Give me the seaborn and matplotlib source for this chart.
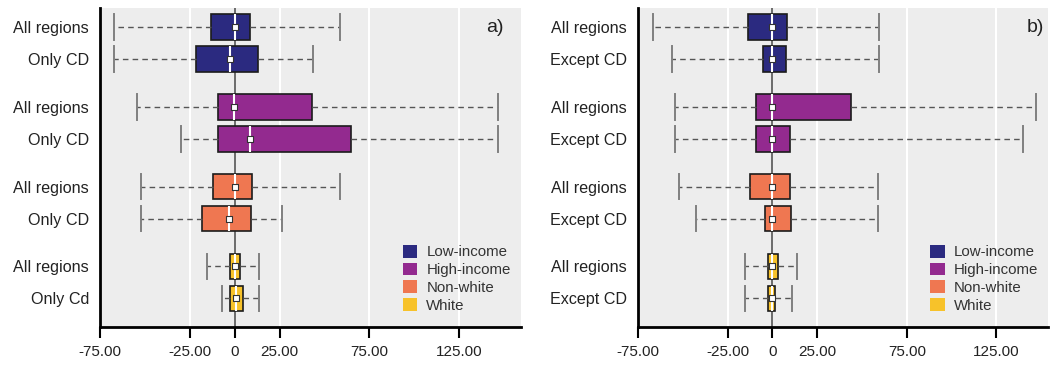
import pandas as pd
import matplotlib.pyplot as plt
import seaborn as sns
from matplotlib.patches import Patch

plt.rcParams['font.family'] = ['Liberation Sans', 'DejaVu Sans']

groups = ['Low-income', 'High-income', 'Non-white', 'White']
colors = ['#2B2A80', '#932A8F', '#EF7751', '#F7C22A']

labels_a = ['All regions', 'Only CD', 'All regions', 'Only CD',
            'All regions', 'Only CD', 'All regions', 'Only Cd']
labels_b = ['All regions', 'Except CD'] * 4

# whisker low, q1, median, q3, whisker high
lo_a = [-67, -67, -54.2, -29.7, -52, -52, -15.4, -6.9]
q1_a = [-13.4, -21.7, -9.3, -9.3, -12.3, -18.4, -2.8, -2.4]
med_a = [0, -2.8, -0.6, 8.7, 0, -3.2, 0, 0.7]
q3_a = [8.4, 13.2, 43.3, 64.6, 9.7, 9.3, 3.2, 4.6]
hi_a = [58.7, 43.8, 146.9, 146.9, 58.7, 26.4, 13.5, 13.5]

lo_b = [-66.4, -55.8, -54.1, -54.1, -52.3, -42.4, -15.3, -15.3]
q1_b = [-13.4, -5.4, -9.1, -9.1, -12.3, -4.1, -2.2, -2.4]
med_b = [0, 0, 0, -0.4, 0, 0, 0, 0]
q3_b = [8.4, 7.6, 43.7, 9.9, 9.9, 10.2, 3.3, 1.5]
hi_b = [59.5, 59.5, 147.1, 140, 59.2, 59.2, 14, 11.2]

xticks = [-75, -25, 0, 25, 75, 125]
xticklabels = ['-75.00', '-25.00', '0', '25.00', '75.00', '125.00']


def draw_panel(ax, labels, lo, q1, med, q3, hi, tag, xmax, tag_x):
    # two rows per group, with a gap between groups
    pos = [i // 2 * 2.5 + i % 2 for i in range(len(labels))]
    rows = []
    for i in range(len(labels)):
        # 5 points -> quartiles land exactly on q1/med/q3, whis=(0,100) gives the ends
        for v in (lo[i], q1[i], med[i], q3[i], hi[i]):
            rows.append({'value': v, 'pos': pos[i], 'group': groups[i // 2]})
    df = pd.DataFrame(rows)

    ax.set_facecolor('#EDEDED')
    for x in [-25, 25, 75, 125]:
        ax.axvline(x, color='white', lw=1.5, zorder=0)
    ax.axvline(0, color='#555555', lw=1.2, zorder=1)

    sns.boxplot(data=df, x='value', y='pos', hue='group', hue_order=groups,
                palette=colors, orient='h', native_scale=True, dodge=False,
                width=0.8, whis=(0, 100), saturation=1, linecolor='#1c1c1c',
                linewidth=1.2, legend=False, capwidths=0.8,
                medianprops=dict(color='white', linewidth=1.5),
                whiskerprops=dict(color='#555555', linestyle=(0, (4, 3)), linewidth=1),
                capprops=dict(color='#808080', linewidth=1.4), ax=ax)
    sns.scatterplot(x=med, y=pos, marker='s', s=16, color='white',
                    edgecolor='#333333', linewidth=0.8, zorder=5, ax=ax)

    ax.set_xlim(-75, xmax)
    ax.set_ylim(9.4, -0.6)
    ax.set_yticks(pos)
    ax.set_yticklabels(labels)
    ax.set_xticks(xticks)
    ax.set_xticklabels(xticklabels)
    ax.set_xlabel('')
    ax.set_ylabel('')
    ax.tick_params(axis='y', length=0, pad=8, labelsize=11.6, labelcolor='#222222')
    ax.tick_params(axis='x', length=8, width=1.5, pad=5, labelsize=11,
                   labelcolor='#222222')
    for s in ['top', 'right']:
        ax.spines[s].set_visible(False)
    for s in ['left', 'bottom']:
        ax.spines[s].set_linewidth(2)
        ax.spines[s].set_color('black')

    ax.text(tag_x, 0.94, tag, transform=ax.transAxes, ha='center', va='center',
            fontsize=14, color='#222222')
    handles = [Patch(facecolor=c, edgecolor='none') for c in colors]
    ax.legend(handles, groups, loc='lower right', bbox_to_anchor=(0.99, 0.025),
              frameon=False, fontsize=10.8, handlelength=0.95, handleheight=0.95,
              handletextpad=0.6, labelspacing=0.22, borderaxespad=0,
              labelcolor='#333333')


fig = plt.figure(figsize=(10.5, 3.65), dpi=100)
ax1 = fig.add_axes([100 / 1050, 38 / 365, 421 / 1050, 319 / 365])
ax2 = fig.add_axes([638 / 1050, 38 / 365, 410 / 1050, 319 / 365])

draw_panel(ax1, labels_a, lo_a, q1_a, med_a, q3_a, hi_a, 'a)', 159.5, 0.938)
draw_panel(ax2, labels_b, lo_b, q1_b, med_b, q3_b, hi_b, 'b)', 153.8, 0.968)

plt.savefig('out.png', dpi=100)
